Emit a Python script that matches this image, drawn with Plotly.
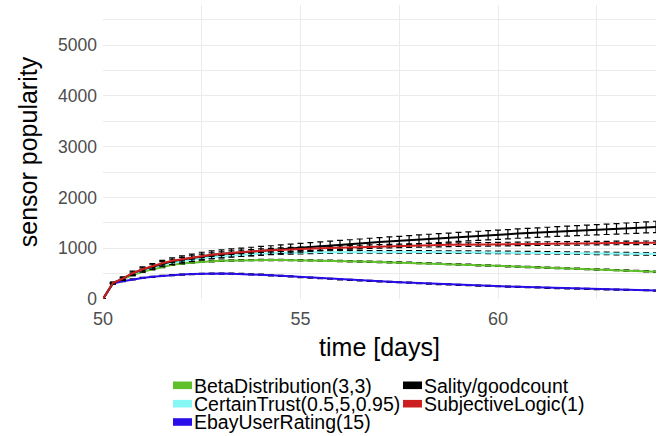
import plotly.graph_objects as go

days = [50.0, 50.25, 50.5, 50.75, 51.0, 51.25, 51.5, 51.75, 52.0, 52.25, 52.5, 52.75,
        53.0, 53.25, 53.5, 53.75, 54.0, 54.25, 54.5, 54.75, 55.0, 55.25, 55.5, 55.75,
        56.0, 56.25, 56.5, 56.75, 57.0, 57.25, 57.5, 57.75, 58.0, 58.25, 58.5, 58.75,
        59.0, 59.25, 59.5, 59.75, 60.0, 60.25, 60.5, 60.75, 61.0, 61.25, 61.5, 61.75,
        62.0, 62.25, 62.5, 62.75, 63.0, 63.25, 63.5, 63.75, 64.0]

beta = [0, 308, 385, 470, 535, 585, 628, 672, 698, 718, 733, 744, 753, 759, 764, 766,
        768, 769, 768, 766, 763, 760, 756, 752, 748, 744, 740, 735, 730, 725, 719, 713,
        707, 701, 694, 687, 680, 673, 666, 659, 652, 645, 638, 631, 624, 617, 610, 603,
        596, 589, 582, 575, 568, 561, 554, 546, 538]
beta_err = [0, 8, 10, 11, 12, 12, 12, 12, 12, 12, 12, 12, 12, 12, 12, 12, 12, 12, 12, 12,
            12, 12, 12, 12, 12, 12, 12, 12, 12, 12, 12, 12, 12, 12, 12, 12, 12, 12, 12, 12,
            12, 12, 12, 12, 12, 12, 12, 12, 12, 12, 12, 12, 12, 12, 12, 12, 12]

certain = [0, 312, 395, 495, 565, 620, 672, 712, 745, 775, 800, 822, 840, 856, 869, 880,
           889, 897, 904, 910, 915, 919, 922, 924, 926, 927, 928, 929, 929, 929, 929, 928,
           927, 926, 925, 924, 923, 922, 921, 920, 919, 917, 915, 913, 911, 909, 907, 905,
           903, 901, 899, 897, 895, 893, 891, 889, 886]
certain_err = [0, 10, 14, 16, 18, 19, 20, 21, 22, 22, 23, 23, 24, 24, 24, 24, 25, 25, 25, 25,
               25, 25, 25, 25, 25, 25, 25, 25, 25, 25, 25, 25, 25, 25, 25, 25, 25, 25, 25, 25,
               25, 25, 25, 25, 25, 25, 25, 25, 25, 25, 25, 25, 25, 25, 25, 25, 25]

ebay = [0, 305, 350, 385, 415, 437, 455, 470, 482, 491, 497, 500, 500, 498, 494, 487,
        478, 467, 456, 444, 432, 421, 410, 399, 388, 378, 368, 358, 348, 339, 330, 321,
        312, 303, 295, 287, 279, 272, 265, 258, 251, 245, 239, 233, 227, 221, 216, 211,
        206, 201, 196, 191, 186, 181, 177, 172, 167]
ebay_err = [0, 8, 9, 10, 10, 10, 10, 10, 10, 10, 10, 10, 10, 10, 10, 10, 10, 10, 10, 10,
            10, 10, 10, 10, 10, 10, 10, 10, 10, 10, 10, 10, 10, 10, 10, 10, 10, 10, 10, 10,
            10, 10, 10, 10, 10, 10, 10, 10, 10, 10, 10, 10, 10, 10, 10, 10, 10]

sality = [0, 315, 400, 505, 580, 640, 698, 745, 778, 810, 845, 868, 888, 905, 920, 935,
          950, 964, 978, 993, 1008, 1024, 1038, 1052, 1066, 1080, 1094, 1108, 1121, 1134,
          1147, 1160, 1173, 1186, 1198, 1210, 1222, 1233, 1244, 1255, 1266, 1277, 1288,
          1298, 1308, 1318, 1328, 1337, 1346, 1355, 1364, 1373, 1382, 1391, 1400, 1410, 1420]
sality_err = [0, 20, 35, 45, 52, 58, 63, 67, 70, 73, 76, 78, 80, 82, 83, 84, 85, 85, 86, 86,
              86, 86, 87, 87, 87, 87, 88, 88, 88, 88, 88, 88, 89, 89, 89, 89, 89, 90, 90, 90,
              90, 91, 92, 93, 94, 95, 96, 97, 99, 100, 101, 103, 104, 106, 107, 109, 111]

subjective = [0, 315, 402, 508, 585, 646, 705, 752, 785, 818, 848, 872, 893, 911, 926, 939,
              951, 962, 972, 980, 987, 994, 1000, 1006, 1012, 1018, 1024, 1030, 1036, 1041,
              1046, 1050, 1055, 1059, 1062, 1066, 1069, 1072, 1075, 1078, 1081, 1083, 1086,
              1088, 1090, 1092, 1094, 1095, 1097, 1098, 1100, 1101, 1103, 1104, 1105, 1107, 1108]
subjective_err = [0, 14, 20, 24, 27, 29, 31, 32, 33, 34, 34, 35, 35, 35, 35, 35, 35, 35, 35, 35,
                  35, 35, 35, 35, 35, 35, 35, 35, 35, 35, 35, 35, 35, 35, 35, 35, 35, 35, 35, 35,
                  35, 35, 35, 35, 35, 35, 35, 35, 35, 35, 35, 35, 35, 35, 35, 35, 35]

names = ["BetaDistribution(3,3)", "CertainTrust(0.5,5,0.95)", "EbayUserRating(15)",
         "Sality/goodcount", "SubjectiveLogic(1)"]
colors = ["#5FC02A", "#86F7F5", "#2A0EEA", "#000000", "#CC2020"]
series = [beta, certain, ebay, sality, subjective]
errors = [beta_err, certain_err, ebay_err, sality_err, subjective_err]
# legend cell (column, row) for each series, ggplot column-major layout
legend_cells = [(0, 0), (0, 1), (0, 2), (1, 0), (1, 1)]

FONT = "Liberation Sans, Arial, Helvetica, sans-serif"

W, H = 658, 436
ML, MR, MT, MB = 103, 2, 5, 137
PW, PH = W - ML - MR, H - MT - MB


def px_x(px):
    return (px - ML) / PW


def px_y(py):
    return (H - MB - py) / PH


fig = go.Figure()
for name, col, vals, err in zip(names, colors, series, errors):
    fig.add_trace(go.Scatter(
        x=days, y=vals, mode="lines", name=name,
        line=dict(color=col, width=2),
        error_y=dict(type="data", array=err, visible=True, color="#000000",
                     thickness=1.2, width=3),
    ))

# legend drawn as keys + one multi-line text block per column in the bottom margin
col_key_x = [173, 403]
row_center_y = [385.3, 403.7, 422.0]
shapes = []
col_lines = {0: [], 1: []}
for name, col, (c, r) in zip(names, colors, legend_cells):
    x0 = col_key_x[c]
    yc = row_center_y[r]
    shapes.append(dict(type="rect", xref="paper", yref="paper",
                       x0=px_x(x0), x1=px_x(x0 + 19),
                       y0=px_y(yc + 3.8), y1=px_y(yc - 3.8),
                       fillcolor=col, line=dict(width=0)))
    col_lines[c].append(name)

annotations = []
for c in (0, 1):
    txt = "<br>".join("<span style='font-size:19.5px'>%s</span>" % t for t in col_lines[c])
    annotations.append(dict(text=txt, xref="paper", yref="paper",
                            x=px_x(col_key_x[c] + 19), y=px_y(row_center_y[0] - 12),
                            xanchor="left", yanchor="top", align="left",
                            showarrow=False,
                            font=dict(size=14, family=FONT, color="#000000")))

grid = "#EBEBEB"
fig.update_layout(
    width=W, height=H,
    margin=dict(l=ML, r=MR, t=MT, b=MB),
    paper_bgcolor="white", plot_bgcolor="white",
    showlegend=False,
    font=dict(family=FONT, color="#000000"),
    shapes=shapes, annotations=annotations,
    xaxis=dict(
        range=[50, 64], tickvals=[50, 55, 60], ticktext=["50", "55", "60"],
        showgrid=True, gridcolor=grid, gridwidth=1.2,
        minor=dict(tickvals=[52.5, 57.5, 62.5], showgrid=True, gridcolor=grid, gridwidth=0.8),
        zeroline=False, showline=False, ticks="", ticklabelstandoff=7,
        tickfont=dict(size=18, color="#4D4D4D", family=FONT),
        title=dict(text="time [days]", font=dict(size=25, color="#000000", family=FONT), standoff=10),
    ),
    yaxis=dict(
        range=[0, 5790], tickvals=[0, 1000, 2000, 3000, 4000, 5000],
        ticktext=["0", "1000", "2000", "3000", "4000", "5000"],
        showgrid=True, gridcolor=grid, gridwidth=1.2,
        minor=dict(tickvals=[500, 1500, 2500, 3500, 4500, 5500], showgrid=True,
                   gridcolor=grid, gridwidth=0.8),
        zeroline=False, showline=False, ticks="", ticklabelstandoff=5,
        tickfont=dict(size=17.5, color="#4D4D4D", family=FONT),
        title=dict(text="sensor popularity", font=dict(size=25, color="#000000", family=FONT), standoff=13),
    ),
)

fig.write_html("out.html")
